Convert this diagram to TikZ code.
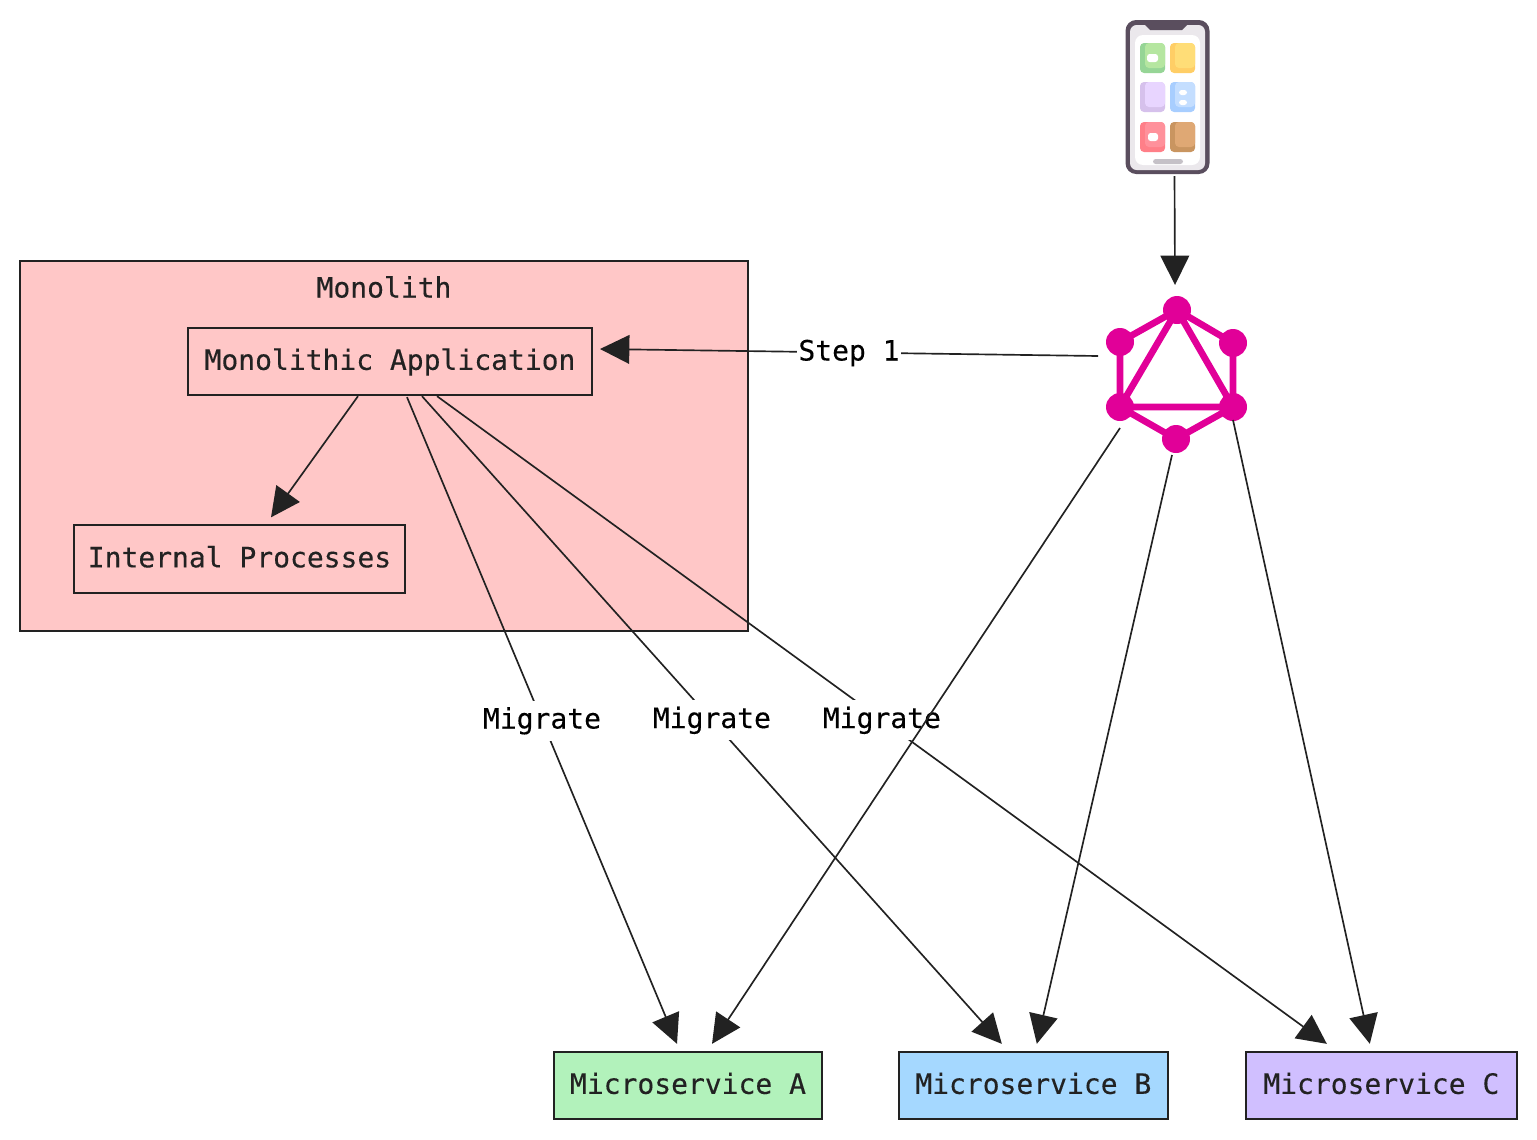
\documentclass[tikz,border=0pt]{standalone}
\usepackage{fontspec}
\usepackage{xcolor}
\usetikzlibrary{positioning, arrows.meta, calc}
\newfontfamily\diagramfont{DejaVu Sans Mono}[FakeBold=0.25]
\definecolor{inkDark}{HTML}{222222}
\definecolor{monoPink}{HTML}{FFC7C7}
\definecolor{svcGreen}{HTML}{B2F2BB}
\definecolor{svcBlue}{HTML}{A5D8FF}
\definecolor{svcPurple}{HTML}{D0BFFF}
\definecolor{gqlPink}{HTML}{E10098}
\definecolor{phoneBody}{HTML}{5A4E5E}
\definecolor{phoneGlass}{HTML}{EBE8EC}
\definecolor{appGreen}{HTML}{B5E6A0}
\definecolor{appGreenDk}{HTML}{96D596}
\definecolor{appYellow}{HTML}{FFDD77}
\definecolor{appYellowDk}{HTML}{FFCE66}
\definecolor{appLilac}{HTML}{E8D5FF}
\definecolor{appLilacDk}{HTML}{D6C1EC}
\definecolor{appBlue}{HTML}{C4DEFF}
\definecolor{appBlueDk}{HTML}{A8CEFF}
\definecolor{appRed}{HTML}{FF919B}
\definecolor{appRedDk}{HTML}{FF7F88}
\definecolor{appBrown}{HTML}{DFA874}
\definecolor{appBrownDk}{HTML}{C99560}

\begin{document}
\begin{tikzpicture}[
      x=0.75pt, y=-0.75pt,
      box/.style={draw=inkDark, line width=1.3pt, outer sep=0pt, inner sep=0pt, align=center, text=inkDark, font=\diagramfont\fontsize{21}{25}\selectfont, text height=16pt, text depth=3.5pt, minimum height=50.5pt},
      edgeLabel/.style={fill=white, inner sep=0pt, text=black, font=\diagramfont\fontsize{21}{25}\selectfont, text height=16pt, text depth=4pt, minimum height=30pt},
      flow/.style={draw=inkDark, line width=1.25pt, ->},
      vertex/.style={circle, fill=gqlPink, inner sep=0pt, minimum size=21pt},
      spoke/.style={draw=gqlPink, line width=5pt},
      >={Triangle[length=22pt, width=21.5pt]},
    ]
    \useasboundingbox (0,0) rectangle (1537,1139);

    % monolith
    \node[box, fill=monoPink, minimum width=546pt, minimum height=277.5pt] (monolith) at (384,446) {};
    \node[text=inkDark, font=\diagramfont\fontsize{21}{25}\selectfont, inner sep=0pt] (monoTitle) at (384,287) {Monolith};
    \node[box, minimum width=303pt] (app) at (390,361.5) {Monolithic Application};
    \node[box, minimum width=248.5pt] (internal) at (239.5,559) {Internal Processes};

    % services
    \node[box, fill=svcGreen, minimum width=201pt] (msA) at (688,1085.5) {Microservice A};
    \node[box, fill=svcBlue, minimum width=202pt, right=57.5pt of msA] (msB) {Microservice B};
    \node[box, fill=svcPurple, minimum width=203pt, right=58.5pt of msB] (msC) {Microservice C};

    % phone
    \node[draw=none, fill=phoneBody, rounded corners=8pt, outer sep=0pt, inner sep=0pt, minimum width=63pt, minimum height=115.5pt] (phone) at (1167.5,97) {};
    \fill[phoneGlass, rounded corners=5pt] (1130,25) rectangle (1205,170);
    \fill[phoneBody] (1144,24) -- (1150,30) -- (1182,30) -- (1188,24) -- cycle;
    \fill[white, rounded corners=6pt] (1135,35) rectangle (1200,165);
    \foreach \xa/\ya/\tone in {1140/43/appGreen, 1170/43/appYellow, 1140/82/appLilac, 1170/82/appBlue, 1140/122/appRed, 1170/122/appBrown} {
      \fill[\tone Dk, rounded corners=3pt] (\xa,\ya) rectangle ++(25,30);
      \fill[\tone, rounded corners=3pt] (\xa+5,\ya) rectangle ++(20,25);
    }
    \fill[white, rounded corners=2pt] (1147,54) rectangle (1158,62);
    \fill[white, rounded corners=2pt] (1179,90) rectangle (1187,95);
    \fill[white, rounded corners=2pt] (1179,100) rectangle (1187,105);
    \fill[white, rounded corners=2pt] (1148,133) rectangle (1158,141);
    \fill[phoneBody!35, rounded corners=2pt] (1153,159) rectangle (1183,164);

    % graphql logo
    \node[minimum width=117pt, minimum height=127.5pt, inner sep=0pt, outer sep=0pt] (gql) at (1176,370) {};
    \node[vertex] (vTop) at (1177,310) {};
    \node[vertex] (vLeft) at (1120,342) {};
    \node[vertex] (vRight) at (1233,343) {};
    \node[vertex] (vLowL) at (1120,407) {};
    \node[vertex] (vLowR) at (1233,407) {};
    \node[vertex] (vBot) at (1176,439) {};
    \draw[spoke] (vTop.center) -- (vLeft.center) -- (vLowL.center) -- (vBot.center) -- (vLowR.center) -- (vRight.center) -- (vTop.center);
    \draw[spoke] (vTop.center) -- (vLowL.center) -- (vLowR.center) -- cycle;

    % edges
    \draw[flow] ($(phone.south)+(7,2)$) -- ($(gql.north)+(-1,0)$);
    \draw[flow] ($(gql.west)+(0,-14)$) -- node[edgeLabel, minimum width=78pt] (stepLabel) {Step 1} ($(app.east)+(8,-12.5)$);
    \draw[flow] ($(app.south)+(-32,1)$) -- ($(internal.north)+(31.5,-8)$);
    \draw[flow] ($(app.south)+(17,2)$) -- node[edgeLabel, minimum width=88pt] (migA) {Migrate} ($(msA.north)+(-11,-8)$);
    \draw[flow] ($(app.south)+(32,1)$) -- node[edgeLabel, minimum width=88pt] (migB) {Migrate} ($(msB.north)+(-31.5,-8)$);
    \draw[flow] ($(app.south)+(47,1)$) -- node[edgeLabel, minimum width=88pt] (migC) {Migrate} ($(msC.north)+(-54.5,-8)$);
    \draw[flow] ($(gql.south west)+(22,-27)$) -- ($(msA.north)+(24,-8)$);
    \draw[flow] ($(gql.south)+(-4,0)$) -- ($(msB.north)+(3.5,-8)$);
    \draw[flow] ($(gql.south east)+(-21,-35)$) -- ($(msC.north)+(-11.5,-8)$);
  \end{tikzpicture}
\end{document}
